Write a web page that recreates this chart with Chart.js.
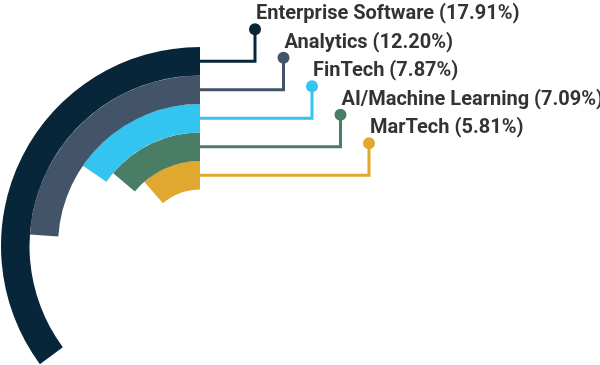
<!DOCTYPE html>
<html>
<head>
<meta charset="utf-8">
<script src="https://cdn.jsdelivr.net/npm/chart.js@4"></script>
<style>
    html, body { margin: 0; padding: 0; background: #fff; overflow: hidden; }
    #wrap { width: 600px; height: 365px; position: relative; }
</style>
</head>
<body>
<div id="wrap"><canvas id="sector-chart"></canvas></div>
<script>
// 업종별 비중 (%)
const categories = ['Enterprise Software', 'Analytics', 'FinTech', 'AI/Machine Learning', 'MarTech'];
const shares = [17.91, 12.20, 7.87, 7.09, 5.81];
const ringColors = ['#07263a', '#435468', '#33c4ef', '#4a7d65', '#e1a82f'];
const scaleMax = 51; // 한 바퀴(360°)에 해당하는 값

/* -------------------- 연결선 + 라벨 -------------------- */

const leaderPlugin = {
    id: 'leaderLines',
    afterDatasetsDraw(chart) {
        const ctx = chart.ctx;
        ctx.save();
        categories.forEach((name, i) => {
            const arc = chart.getDatasetMeta(i).data[1];
            if (!arc) return;
            const thick = arc.outerRadius - arc.innerRadius;
            const lineY = arc.y - (arc.outerRadius + arc.innerRadius) / 2;
            const elbowX = arc.x + 55 + i * thick;
            const dotY = lineY - 32;
            const color = ringColors[i];

            ctx.strokeStyle = color;
            ctx.lineWidth = 3;
            ctx.lineJoin = 'miter';
            ctx.beginPath();
            ctx.moveTo(arc.x, lineY);
            ctx.lineTo(elbowX, lineY);
            ctx.lineTo(elbowX, dotY);
            ctx.stroke();

            ctx.fillStyle = color;
            ctx.beginPath();
            ctx.arc(elbowX, dotY, 6, 0, Math.PI * 2);
            ctx.fill();

            ctx.fillStyle = '#333333';
            ctx.font = 'bold 20px Roboto';
            ctx.textBaseline = 'alphabetic';
            ctx.fillText(`${name} (${shares[i].toFixed(2)}%)`, elbowX + 1, dotY - 10);
        });
        ctx.restore();
    }
};

/* -------------------- 방사형 막대 (doughnut 링) -------------------- */

new Chart(document.getElementById('sector-chart'), {
    type: 'doughnut',
    data: {
        labels: ['', ''],
        datasets: shares.map((v, i) => ({
            label: categories[i],
            data: [scaleMax - v, v], // 앞쪽은 투명 여백 → 값 구간이 12시에서 반시계로 보임
            backgroundColor: ['rgba(0,0,0,0)', ringColors[i]],
            borderWidth: 0,
            clip: false
        }))
    },
    options: {
        responsive: true,
        maintainAspectRatio: false,
        animation: false,
        events: [],
        radius: 199,
        cutout: '28.4%',
        layout: { padding: { left: 0, right: 200, top: 127, bottom: 0 } },
        plugins: {
            legend: { display: false },
            tooltip: { enabled: false }
        }
    },
    plugins: [leaderPlugin]
});
</script>
</body>
</html>
